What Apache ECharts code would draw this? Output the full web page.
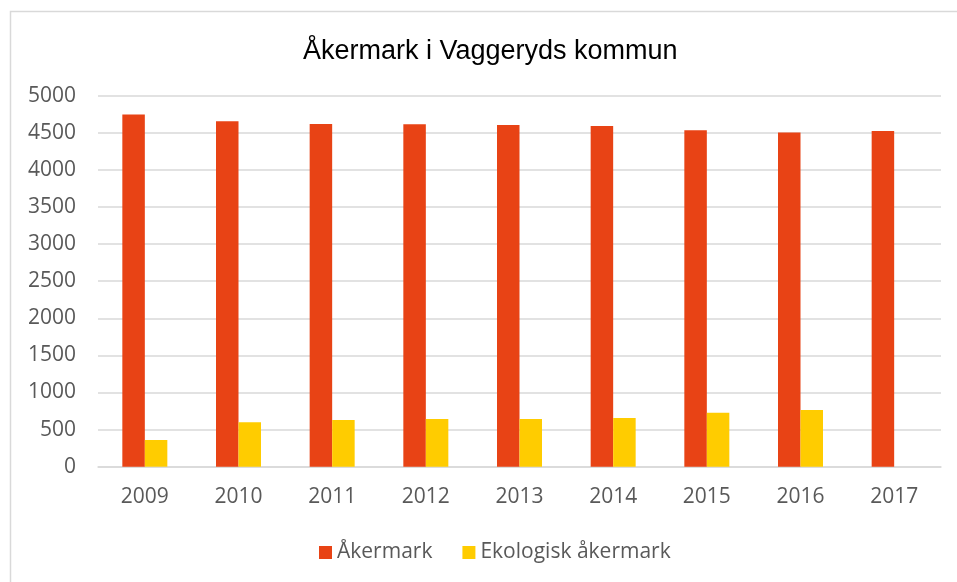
<!DOCTYPE html>
<html>
<head>
<meta charset="utf-8">
<script src="https://cdn.jsdelivr.net/npm/echarts@6/dist/echarts.min.js"></script>
<style>html,body{margin:0;padding:0;background:#fff}#c{width:957px;height:582px}</style>
</head>
<body>
<div id="c"></div>
<script>
const years = ['2009','2010','2011','2012','2013','2014','2015','2016','2017'];
const akermark = [4745, 4655, 4620, 4615, 4605, 4592, 4535, 4505, 4525];
const ekologisk = [360, 600, 630, 643, 643, 656, 728, 764, null];
const seriesNames = ['Åkermark', 'Ekologisk åkermark'];
const titleText = 'Åkermark i Vaggeryds kommun';

const chart = echarts.init(document.getElementById('c'), null, {renderer: 'canvas'});
const labelFont = {fontFamily: '"Open Sans", sans-serif', fontSize: 21, color: '#595959'};
chart.setOption({
  animation: false,
  backgroundColor: '#fff',
  title: {
    text: titleText,
    left: 298, top: 33,
    textStyle: {fontFamily: '"Liberation Sans", Arial, sans-serif', fontSize: 27, fontWeight: 'normal', color: '#000'}
  },
  graphic: [{
    type: 'rect', silent: true,
    shape: {x: 10.5, y: 11.5, width: 1200, height: 1200},
    style: {fill: 'none', stroke: '#d9d9d9', lineWidth: 1.5}
  }],
  legend: {
    data: seriesNames,
    left: 314, top: 537,
    itemWidth: 13, itemHeight: 13, itemGap: 30,
    icon: 'rect',
    textStyle: labelFont
  },
  grid: {left: 98, right: 16, top: 95.7, bottom: 115.3, containLabel: false},
  xAxis: {
    type: 'category', data: years,
    axisLine: {lineStyle: {color: '#d9d9d9', width: 1.5}},
    axisTick: {show: false},
    axisLabel: Object.assign({margin: 20}, labelFont)
  },
  yAxis: {
    type: 'value', min: 0, max: 5000, interval: 500,
    axisLine: {show: false}, axisTick: {show: false},
    splitLine: {lineStyle: {color: '#d9d9d9', width: 1.5}},
    axisLabel: Object.assign({margin: 22, formatter: function (v) { return String(v); }}, labelFont)
  },
  series: [
    {name: seriesNames[0], type: 'bar', data: akermark, barWidth: 22.5, barGap: '0%', itemStyle: {color: '#E84315'}},
    {name: seriesNames[1], type: 'bar', data: ekologisk, barWidth: 22.5, barGap: '0%', itemStyle: {color: '#FFCC00'}}
  ]
});
</script>
</body>
</html>
